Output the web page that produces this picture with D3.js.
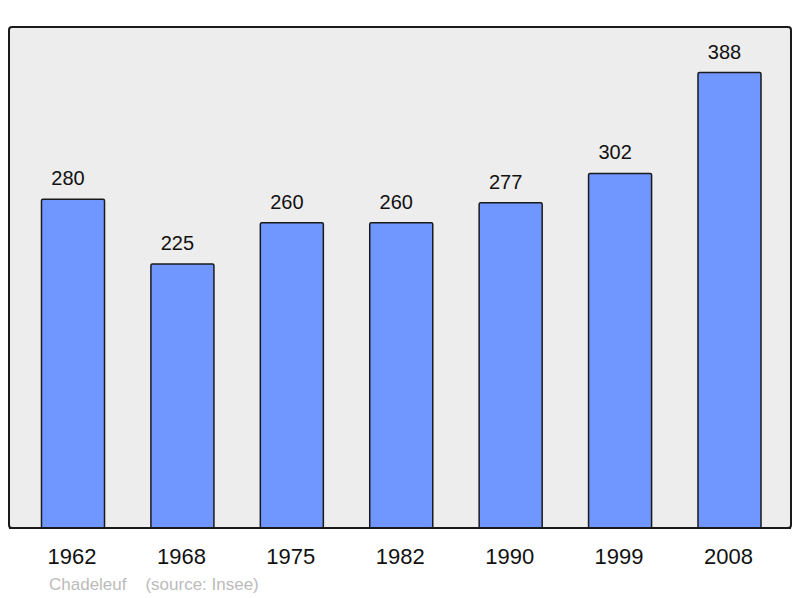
<!DOCTYPE html>
<html>
<head>
<meta charset="utf-8">
<script src="https://cdn.jsdelivr.net/npm/d3@7"></script>
<style>
  html, body { margin: 0; padding: 0; background: #fff; }
  svg { display: block; font-family: 'Liberation Sans', Arial, sans-serif; }
</style>
</head>
<body>
<svg id="chart"></svg>
<script>
const years = ['1962', '1968', '1975', '1982', '1990', '1999', '2008']
const population = [280, 225, 260, 260, 277, 302, 388]
const commune = 'Chadeleuf'
const source = '(source: Insee)'

const width = 800
const height = 598
const frame = { left: 9, top: 27, right: 791, bottom: 528 }

const svg = d3.select('#chart').attr('width', width).attr('height', height)

// Plot frame
svg.append('rect')
    .attr('x', frame.left).attr('y', frame.top)
    .attr('width', frame.right - frame.left)
    .attr('height', frame.bottom - frame.top)
    .attr('rx', 3).attr('ry', 3)
    .attr('fill', '#ededed')
    .attr('stroke', '#1a1a1a')
    .attr('stroke-width', 2)

// Scales
const x = d3.scaleBand()
    .domain(years)
    .range([18.3, 784.2])
    .paddingInner(0.424)
    .paddingOuter(0.212)

const y = d3.scaleLinear()
    .domain([0, d3.max(population) * 1.1])
    .range([frame.bottom, frame.top])

const data = years.map((year, i) => ({ year, value: population[i] }))

// Bars
svg.selectAll('.bar').data(data).enter()
    .append('rect').attr('class', 'bar')
    .attr('x', d => x(d.year))
    .attr('y', d => y(d.value))
    .attr('width', x.bandwidth())
    .attr('height', d => frame.bottom - y(d.value))
    .attr('rx', 1.5)
    .attr('fill', '#7097ff')
    .attr('stroke', '#1a1a1a')
    .attr('stroke-width', 1.5)

// Value labels (sit slightly left of bar centre, as in the original)
svg.selectAll('.value').data(data).enter()
    .append('text').attr('class', 'value')
    .attr('x', d => x(d.year) + x.bandwidth() / 2 - 5)
    .attr('y', d => y(d.value) - 14)
    .attr('text-anchor', 'middle')
    .attr('font-size', 20)
    .attr('fill', '#111')
    .text(d => d.value)

// Redraw frame bottom over bars
svg.append('line')
    .attr('x1', frame.left).attr('x2', frame.right)
    .attr('y1', frame.bottom).attr('y2', frame.bottom)
    .attr('stroke', '#1a1a1a').attr('stroke-width', 2)

// X axis labels
svg.selectAll('.year').data(years).enter()
    .append('text').attr('class', 'year')
    .attr('x', d => x(d) + x.bandwidth() / 2 - 1)
    .attr('y', 564)
    .attr('text-anchor', 'middle')
    .attr('font-size', 22)
    .attr('fill', '#111')
    .text(d => d)

// Source line
svg.append('text')
    .attr('x', 49).attr('y', 590)
    .attr('font-size', 17)
    .attr('fill', '#bbbbbb')
    .attr('xml:space', 'preserve')
    .text(`${commune}    ${source}`)
</script>
</body>
</html>
